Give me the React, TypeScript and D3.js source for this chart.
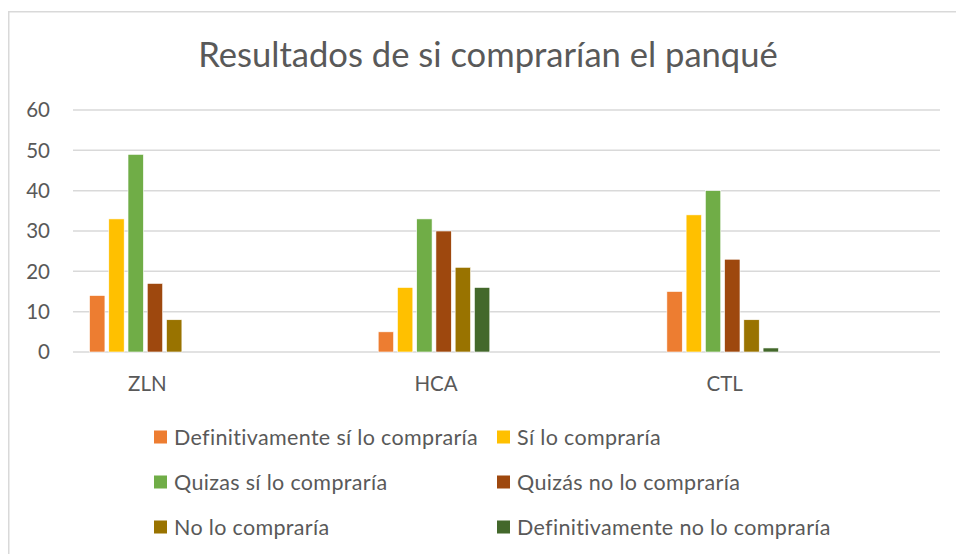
import React from "react";
import * as d3 from "d3";

const categories = ["ZLN", "HCA", "CTL"];
const seriesNames = [
  "Definitivamente sí lo compraría",
  "Sí lo compraría",
  "Quizas sí lo compraría",
  "Quizás no lo compraría",
  "No lo compraría",
  "Definitivamente no lo compraría",
];
const seriesColors = ["#ED7D31", "#FFC000", "#70AD47", "#9E480E", "#997300", "#43682B"];
// values[series][category]
const defSi = [14, 5, 15];
const si = [33, 16, 34];
const quizasSi = [49, 33, 40];
const quizasNo = [17, 30, 23];
const noLo = [8, 21, 8];
const defNo = [null, 16, 1];
const seriesValues = [defSi, si, quizasSi, quizasNo, noLo, defNo];
const yTicks = [0, 10, 20, 30, 40, 50, 60];
const title = "Resultados de si comprarían el panqué";

const W = 956;
const H = 554;
const FONT = "Lato, 'Open Sans', sans-serif";
const TEXT = "#595959";

export default function App() {
  const plotLeft = 73;
  const plotRight = 940;
  const y = d3.scaleLinear().domain([0, 60]).range([352, 110]);
  const x = d3.scaleBand().domain(categories).range([1, 867]);
  const inner = d3
    .scaleBand()
    .domain(seriesNames)
    .range([-55.8, 55.8])
    .paddingInner(0.2);

  const legendCols = [154, 497];
  const legendRows = [437, 482, 527];

  return (
    <svg
      width={W}
      height={H}
      style={{ position: "absolute", left: 0, top: 0, background: "#fff" }}
      fontFamily={FONT}
    >
      <rect x={8.75} y={11.75} width={W + 20} height={H + 20} fill="#fff" stroke="#D9D9D9" strokeWidth={1.5} />
      <text x={488} y={67} textAnchor="middle" fontSize={34.6} fill={TEXT}>
        {title}
      </text>
      {yTicks.map((t) => (
        <g key={t}>
          <line x1={plotLeft} x2={plotRight} y1={y(t)} y2={y(t)} stroke="#D9D9D9" strokeWidth={1.5} />
          <text x={50} y={y(t)} dy="0.36em" textAnchor="end" fontSize={20.5} fill={TEXT}>
            {t}
          </text>
        </g>
      ))}
      {categories.map((c, ci) => {
        const cx = (x(c) as number) + x.bandwidth() / 2;
        return (
          <g key={c}>
            {seriesNames.map((s, si2) => {
              const v = seriesValues[si2][ci];
              if (v == null || v === 0) return null;
              return (
                <rect
                  key={s}
                  x={cx + (inner(s) as number)}
                  y={y(v)}
                  width={inner.bandwidth()}
                  height={y(0) - y(v)}
                  fill={seriesColors[si2]}
                  stroke="#fff"
                  strokeWidth={0.6}
                />
              );
            })}
            <text x={cx + 2} y={391} textAnchor="middle" fontSize={20.5} fill={TEXT}>
              {c}
            </text>
          </g>
        );
      })}
      {seriesNames.map((s, i) => {
        const lx = legendCols[i % 2];
        const ly = legendRows[Math.floor(i / 2)];
        return (
          <g key={s}>
            <rect x={lx} y={ly - 6.5} width={13} height={13} fill={seriesColors[i]} />
            <text x={lx + 20} y={ly} dy="0.36em" fontSize={21.5} letterSpacing={0.33} fill={TEXT}>
              {s}
            </text>
          </g>
        );
      })}
    </svg>
  );
}
